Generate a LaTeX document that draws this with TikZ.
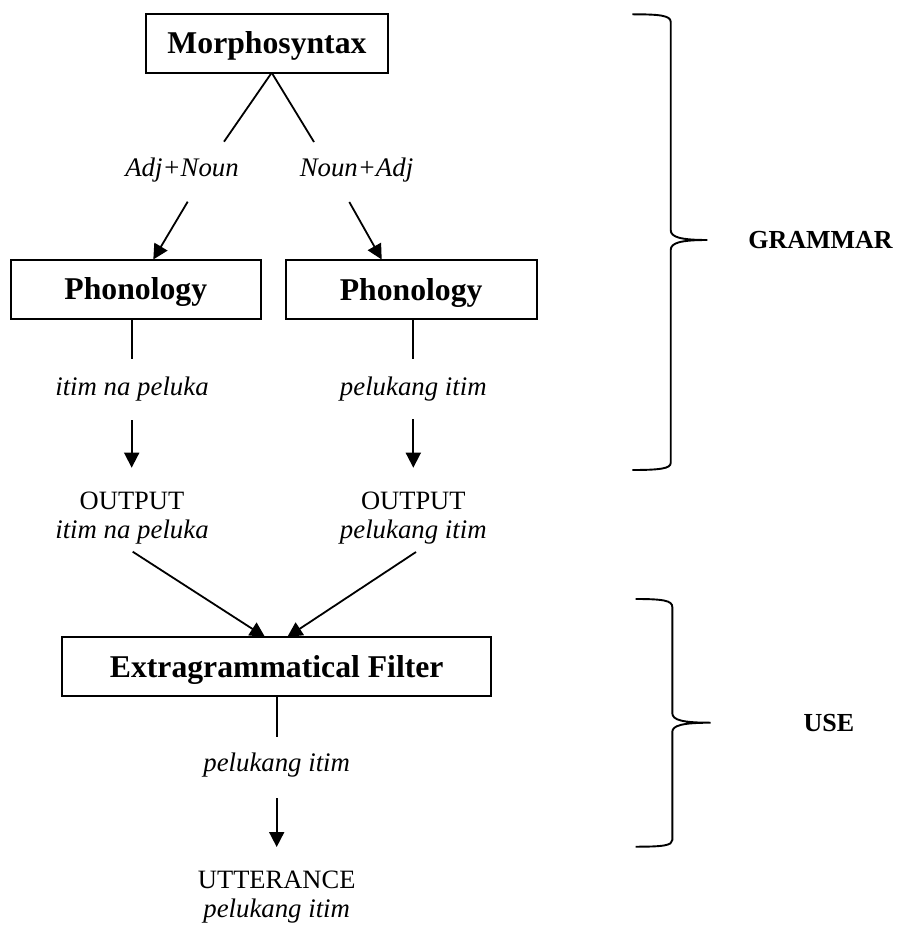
\documentclass[tikz,border=0pt]{standalone}
\usepackage{fontspec}
\setmainfont{Liberation Serif}
\usetikzlibrary{arrows.meta}
\tikzset{
  boxnode/.style={draw, line width=1.8pt, inner sep=0pt, font=\fontsize{31.7}{36}\selectfont\bfseries, text height=21pt, text depth=0pt},
  lbl/.style={inner sep=0pt, anchor=base, font=\fontsize{26.5}{30}\selectfont},
  ilbl/.style={lbl, font=\fontsize{26.8}{30}\selectfont\itshape},
  blbl/.style={lbl, font=\fontsize{26}{30}\selectfont\bfseries},
  conn/.style={line width=1.8pt},
  arr/.style={line width=1.8pt, -{Triangle[length=15pt,width=15pt]}},
  brace/.style={line width=1.9pt}
}
\begin{document}
\begin{tikzpicture}[x=1pt,y=-1pt]
\useasboundingbox (0,0) rectangle (901,925);
% boxes
\node[boxnode, minimum width=242.3pt, minimum height=58.4pt] (morph) at (267,43.5) {Morphosyntax};
\node[boxnode, minimum width=250.3pt, minimum height=58.7pt] (phonL) at (135.8,289.4) {Phonology};
\node[boxnode, minimum width=251pt, minimum height=59pt] (phonR) at (411.2,289.5) {Phonology};
\node[boxnode, minimum width=428.7pt, minimum height=58.4pt] (filter) at (276.7,666.5) {Extragrammatical Filter};
% labels
\node[ilbl] (adjnoun) at (182,176.7) {Adj+Noun};
\node[ilbl] (nounadj) at (356.5,176.7) {Noun+Adj};
\node[ilbl] (formL) at (132,395) {itim na peluka};
\node[ilbl] (formR) at (413.3,395) {pelukang itim};
\node[lbl] (outL) at (132,509) {OUTPUT};
\node[ilbl] (outLi) at (132,538.3) {itim na peluka};
\node[lbl] (outR) at (413.3,509) {OUTPUT};
\node[ilbl] (outRi) at (413.3,538.3) {pelukang itim};
\node[ilbl] (formF) at (276.7,771.7) {pelukang itim};
\node[lbl] (utt) at (276.7,888.3) {UTTERANCE};
\node[ilbl] (utti) at (276.7,917.6) {pelukang itim};
\node[blbl] (grammar) at (820.5,248.3) {GRAMMAR};
\node[blbl] (use) at (829,731.7) {USE};
% connector coordinates
\coordinate (mroot) at (271.7,72.7);
\coordinate (mL) at (224,141.7);
\coordinate (mR) at (314,142);
\coordinate (aLs) at (187.7,201.7);
\coordinate (aLe) at (153.3,259.5);
\coordinate (aRs) at (349.3,202);
\coordinate (aRe) at (381.7,259.5);
\coordinate (pLe) at (131.7,359.3);
\coordinate (fLs) at (131.7,420);
\coordinate (fLe) at (131.7,467.7);
\coordinate (pRe) at (413.3,358.7);
\coordinate (fRs) at (413.3,419);
\coordinate (fRe) at (413.3,467.7);
\coordinate (oLs) at (132.7,551.7);
\coordinate (oLe) at (265,637);
\coordinate (oRs) at (416,552);
\coordinate (oRe) at (287.3,637);
\coordinate (xe) at (276.7,736.7);
\coordinate (us) at (276.7,798);
\coordinate (ue) at (276.7,847);
% connectors
\draw[conn] (mroot) -- (mL);
\draw[conn] (mroot) -- (mR);
\draw[arr] (aLs) -- (aLe);
\draw[arr] (aRs) -- (aRe);
\draw[conn] (phonL.south -| pLe) -- (pLe);
\draw[arr] (fLs) -- (fLe);
\draw[conn] (phonR.south -| pRe) -- (pRe);
\draw[arr] (fRs) -- (fRe);
\draw[arr] (oLs) -- (oLe);
\draw[arr] (oRs) -- (oRe);
\draw[conn] (filter.south) -- (xe);
\draw[arr] (us) -- (ue);
% braces
\draw[brace] (632.3,14.3) .. controls (660,14.3) and (670.7,15.5) .. (670.7,22)
  -- (670.7,230) .. controls (670.7,237) and (680,240) .. (707.3,240)
  .. controls (680,240) and (670.7,243) .. (670.7,250)
  -- (670.7,463) .. controls (670.7,468.5) and (660,470) .. (632.3,470);
\draw[brace] (635.7,599) .. controls (663,599) and (672.3,600.5) .. (672.3,607)
  -- (672.3,713) .. controls (672.3,720) and (682,722.7) .. (710.7,722.7)
  .. controls (682,722.7) and (672.3,725.5) .. (672.3,732)
  -- (672.3,840) .. controls (672.3,845.5) and (663,846.7) .. (635.7,846.7);
\end{tikzpicture}
\end{document}
